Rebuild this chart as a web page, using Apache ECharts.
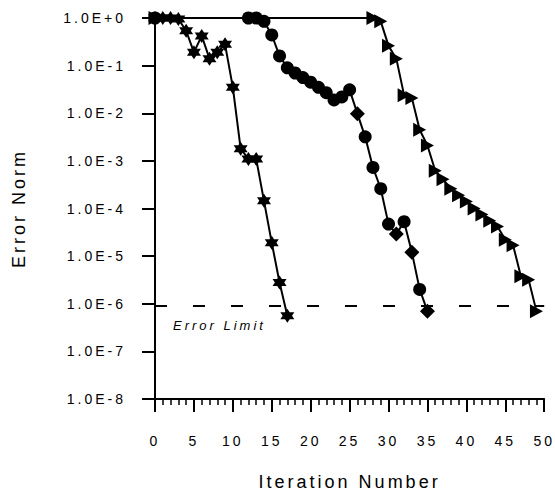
<!DOCTYPE html>
<html>
<head>
<meta charset="utf-8">
<script src="https://cdn.jsdelivr.net/npm/echarts@6/dist/echarts.min.js"></script>
<style>
  html, body { margin: 0; padding: 0; background: #fff; }
  #chart { width: 555px; height: 496px; }
  #chart svg text { letter-spacing: 3px; }
</style>
</head>
<body>
<div id="chart"></div>
<script>
// ---- data ----
const s1Iter = [0, 1, 2, 3, 4, 5, 6, 7, 8, 9, 10, 11, 12, 13, 14, 15, 16, 17];
const s1Err  = [1.0, 1.0, 1.0, 0.95, 0.54, 0.19, 0.42, 0.14, 0.19, 0.28, 0.035, 1.8e-3, 1.1e-3, 1.1e-3, 1.45e-4, 1.9e-5, 2.8e-6, 5.6e-7];

const s2Iter = [0, 12, 13, 14, 15, 16, 17, 18, 19, 20, 21, 22, 23, 24, 25, 26, 27, 28, 29, 30, 31, 32, 33, 34, 35];
const s2Err  = [1.0, 1.0, 1.0, 0.85, 0.44, 0.16, 0.09, 0.07, 0.056, 0.045, 0.035, 0.027, 0.019, 0.022, 0.031, 0.0098, 3.2e-3, 7.3e-4, 2.6e-4, 4.7e-5, 2.9e-5, 5.3e-5, 1.2e-5, 2.0e-6, 7.0e-7];
const s2DiamondIter = [26, 31, 33, 35];

const s3Iter = [0, 28, 29, 30, 31, 32, 33, 34, 35, 36, 37, 38, 39, 40, 41, 42, 43, 44, 45, 46, 47, 48, 49];
const s3Err  = [1.0, 1.0, 0.85, 0.26, 0.14, 0.024, 0.021, 4.5e-3, 2.1e-3, 6.2e-4, 4.1e-4, 2.6e-4, 1.9e-4, 1.4e-4, 1.0e-4, 7.5e-5, 5.5e-5, 4.2e-5, 2.2e-5, 1.7e-5, 3.8e-6, 3.2e-6, 7.0e-7];

const errorLimit = 9e-7;
const errorLimitLabel = 'Error Limit';
const xTicks = [0, 5, 10, 15, 20, 25, 30, 35, 40, 45, 50];
const yTickExponents = [0, -1, -2, -3, -4, -5, -6, -7, -8];

// ---- build ----
const pairs = (xs, ys) => xs.map((x, i) => [x, ys[i]]);
const FONT = 'Liberation Sans, Arial, sans-serif';
const STAR = 'path://M0,-10 L2.9,-5 L8.66,-5 L5.8,0 L8.66,5 L2.9,5 L0,10 L-2.9,5 L-8.66,5 L-5.8,0 L-8.66,-5 L-2.9,-5 Z';
const TRI = 'path://M0,0 L12,6 L0,12 Z';
const xMin = xTicks[0], xMax = xTicks[xTicks.length - 1];

const chart = echarts.init(document.getElementById('chart'), null, { renderer: 'svg' });

const option = {
  animation: false,
  backgroundColor: '#fff',
  grid: { left: 155, right: 10, top: 18, bottom: 96, containLabel: false },
  xAxis: {
    type: 'value',
    min: xMin, max: xMax, interval: 5,
    name: 'Iteration Number',
    nameLocation: 'middle', nameGap: 74,
    nameTextStyle: { fontFamily: FONT, fontSize: 18, color: '#000' },
    axisLine: { show: true, lineStyle: { color: '#000', width: 2 } },
    axisTick: { show: true, inside: false, length: 13, lineStyle: { color: '#000', width: 2 } },
    minorTick: { show: true, splitNumber: 5, length: 6, lineStyle: { color: '#000', width: 1.5 } },
    axisLabel: { margin: 35, fontFamily: FONT, fontSize: 14, color: '#000' },
    splitLine: { show: false }
  },
  yAxis: {
    type: 'log', logBase: 10,
    min: Math.pow(10, Math.min(...yTickExponents)), max: Math.pow(10, Math.max(...yTickExponents)),
    interval: 1,
    name: 'Error Norm',
    nameLocation: 'middle', nameGap: 127, nameRotate: 90,
    nameTextStyle: { fontFamily: FONT, fontSize: 18, color: '#000' },
    axisLine: { show: true, lineStyle: { color: '#000', width: 2 } },
    axisTick: { show: true, inside: false, length: 13, lineStyle: { color: '#000', width: 2 } },
    minorTick: { show: false },
    axisLabel: {
      margin: 29, fontFamily: FONT, fontSize: 14, color: '#000',
      formatter: v => {
        const e = Math.round(Math.log10(v));
        return '1.0E' + (e >= 0 ? '+' : '') + e;
      }
    },
    splitLine: { show: false }
  },
  series: [
    {
      name: 'limit', type: 'line', data: [[xMin, errorLimit], [xMax, errorLimit]],
      symbol: 'none', silent: true,
      lineStyle: { color: '#000', width: 2, type: [12, 26] },
      z: 1
    },
    {
      name: 'A', type: 'line', data: pairs(s1Iter, s1Err),
      symbol: STAR, symbolSize: 14,
      lineStyle: { color: '#000', width: 2 },
      itemStyle: { color: '#000' },
      z: 3
    },
    {
      name: 'B', type: 'line', data: pairs(s2Iter, s2Err),
      symbol: (val) => s2DiamondIter.includes(val[0]) ? 'diamond' : 'circle',
      symbolSize: (val) => s2DiamondIter.includes(val[0]) ? 15 : 13,
      lineStyle: { color: '#000', width: 2 },
      itemStyle: { color: '#000' },
      z: 3
    },
    {
      name: 'C', type: 'line', data: pairs(s3Iter, s3Err),
      symbol: TRI, symbolSize: [13, 14],
      lineStyle: { color: '#000', width: 2 },
      itemStyle: { color: '#000' },
      z: 3
    }
  ]
};
chart.setOption(option);

// "Error Limit" annotation placed just under the start of the limit line
const p = chart.convertToPixel({ gridIndex: 0 }, [xMin, errorLimit]);
chart.setOption({
  graphic: [{
    type: 'text', x: p[0] + 18, y: p[1] + 13,
    style: {
      text: errorLimitLabel, fill: '#000',
      font: 'italic 13px Liberation Sans, Arial, sans-serif',
      textVerticalAlign: 'top', textAlign: 'left'
    }
  }]
});
</script>
</body>
</html>
